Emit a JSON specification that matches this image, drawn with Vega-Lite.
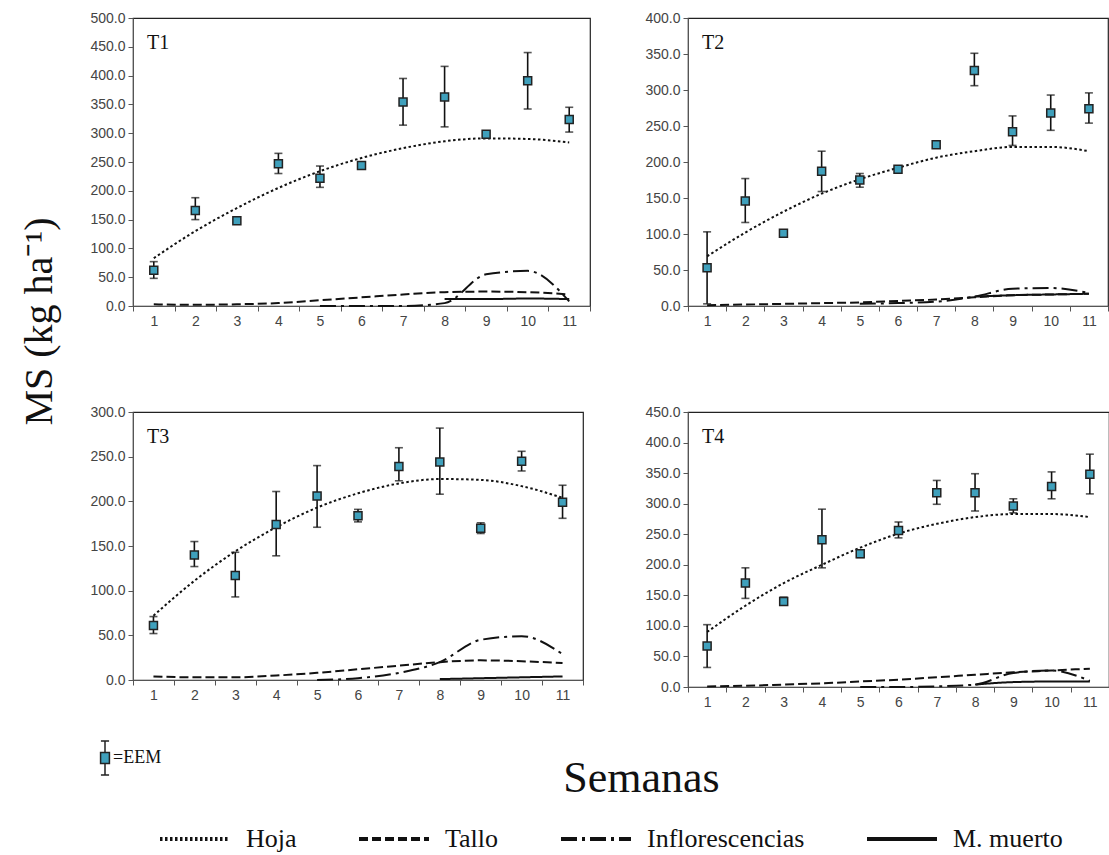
{
  "$schema": "https://vega.github.io/schema/vega-lite/v6.json",
  "background": "white",
  "padding": {"left": 18, "top": 10, "right": 0, "bottom": 0},
  "columns": 2,
  "bounds": "flush",
  "spacing": {"row": 106, "column": 98},
  "resolve": {
    "scale": {"x": "independent", "y": "independent", "strokeDash": "shared", "fill": "shared"},
    "axis": {"x": "independent", "y": "independent"},
    "legend": {"strokeDash": "shared", "fill": "shared"}
  },
  "datasets": {
    "pts": [
      {"p":"T1","s":1,"ms":62,"lo":48,"hi":77},{"p":"T1","s":2,"ms":166,"lo":150,"hi":188},{"p":"T1","s":3,"ms":148,"lo":145,"hi":151},{"p":"T1","s":4,"ms":247,"lo":230,"hi":265},{"p":"T1","s":5,"ms":222,"lo":206,"hi":243},{"p":"T1","s":6,"ms":244,"lo":238,"hi":250},{"p":"T1","s":7,"ms":354,"lo":314,"hi":395},{"p":"T1","s":8,"ms":363,"lo":311,"hi":416},{"p":"T1","s":9,"ms":298,"lo":294,"hi":302},{"p":"T1","s":10,"ms":391,"lo":342,"hi":440},{"p":"T1","s":11,"ms":324,"lo":302,"hi":345},
      {"p":"T2","s":1,"ms":53,"lo":3,"hi":103},{"p":"T2","s":2,"ms":146,"lo":116,"hi":177},{"p":"T2","s":3,"ms":101,"lo":97,"hi":105},{"p":"T2","s":4,"ms":187,"lo":159,"hi":215},{"p":"T2","s":5,"ms":175,"lo":165,"hi":184},{"p":"T2","s":6,"ms":190,"lo":187,"hi":193},{"p":"T2","s":7,"ms":224,"lo":221,"hi":227},{"p":"T2","s":8,"ms":327,"lo":306,"hi":351},{"p":"T2","s":9,"ms":242,"lo":223,"hi":264},{"p":"T2","s":10,"ms":268,"lo":244,"hi":293},{"p":"T2","s":11,"ms":274,"lo":254,"hi":296},
      {"p":"T3","s":1,"ms":61,"lo":52,"hi":71},{"p":"T3","s":2,"ms":140,"lo":127,"hi":155},{"p":"T3","s":3,"ms":117,"lo":93,"hi":143},{"p":"T3","s":4,"ms":174,"lo":139,"hi":211},{"p":"T3","s":5,"ms":206,"lo":171,"hi":240},{"p":"T3","s":6,"ms":184,"lo":177,"hi":191},{"p":"T3","s":7,"ms":239,"lo":223,"hi":260},{"p":"T3","s":8,"ms":244,"lo":208,"hi":282},{"p":"T3","s":9,"ms":170,"lo":164,"hi":176},{"p":"T3","s":10,"ms":245,"lo":234,"hi":256},{"p":"T3","s":11,"ms":199,"lo":181,"hi":218},
      {"p":"T4","s":1,"ms":67,"lo":32,"hi":102},{"p":"T4","s":2,"ms":170,"lo":145,"hi":195},{"p":"T4","s":3,"ms":140,"lo":134,"hi":147},{"p":"T4","s":4,"ms":241,"lo":195,"hi":291},{"p":"T4","s":5,"ms":218,"lo":212,"hi":224},{"p":"T4","s":6,"ms":256,"lo":244,"hi":270},{"p":"T4","s":7,"ms":318,"lo":299,"hi":338},{"p":"T4","s":8,"ms":318,"lo":288,"hi":349},{"p":"T4","s":9,"ms":296,"lo":285,"hi":308},{"p":"T4","s":10,"ms":328,"lo":308,"hi":352},{"p":"T4","s":11,"ms":348,"lo":316,"hi":381}
    ],
    "lin": [
      {"p":"T1","c":"Hoja","s":1,"v":83},{"p":"T1","c":"Hoja","s":2,"v":130},{"p":"T1","c":"Hoja","s":3,"v":170},{"p":"T1","c":"Hoja","s":4,"v":205},{"p":"T1","c":"Hoja","s":5,"v":234},{"p":"T1","c":"Hoja","s":6,"v":257},{"p":"T1","c":"Hoja","s":7,"v":274},{"p":"T1","c":"Hoja","s":8,"v":286},{"p":"T1","c":"Hoja","s":9,"v":291},{"p":"T1","c":"Hoja","s":10,"v":290},{"p":"T1","c":"Hoja","s":11,"v":284},
      {"p":"T1","c":"Tallo","s":1,"v":3},{"p":"T1","c":"Tallo","s":2,"v":2},{"p":"T1","c":"Tallo","s":3,"v":3},{"p":"T1","c":"Tallo","s":4,"v":5},{"p":"T1","c":"Tallo","s":5,"v":10},{"p":"T1","c":"Tallo","s":6,"v":15},{"p":"T1","c":"Tallo","s":7,"v":20},{"p":"T1","c":"Tallo","s":8,"v":24},{"p":"T1","c":"Tallo","s":9,"v":25},{"p":"T1","c":"Tallo","s":10,"v":24},{"p":"T1","c":"Tallo","s":11,"v":20},
      {"p":"T1","c":"Inflorescencias","s":5,"v":0},{"p":"T1","c":"Inflorescencias","s":6,"v":0},{"p":"T1","c":"Inflorescencias","s":7,"v":0},{"p":"T1","c":"Inflorescencias","s":8,"v":5},{"p":"T1","c":"Inflorescencias","s":9,"v":55},{"p":"T1","c":"Inflorescencias","s":10,"v":61},{"p":"T1","c":"Inflorescencias","s":11,"v":8},
      {"p":"T1","c":"M. muerto","s":8,"v":12},{"p":"T1","c":"M. muerto","s":9,"v":12},{"p":"T1","c":"M. muerto","s":10,"v":13},{"p":"T1","c":"M. muerto","s":11,"v":12},
      {"p":"T2","c":"Hoja","s":1,"v":69},{"p":"T2","c":"Hoja","s":2,"v":102},{"p":"T2","c":"Hoja","s":3,"v":131},{"p":"T2","c":"Hoja","s":4,"v":156},{"p":"T2","c":"Hoja","s":5,"v":176},{"p":"T2","c":"Hoja","s":6,"v":192},{"p":"T2","c":"Hoja","s":7,"v":206},{"p":"T2","c":"Hoja","s":8,"v":215},{"p":"T2","c":"Hoja","s":9,"v":221},{"p":"T2","c":"Hoja","s":10,"v":221},{"p":"T2","c":"Hoja","s":11,"v":215},
      {"p":"T2","c":"Tallo","s":1,"v":1},{"p":"T2","c":"Tallo","s":2,"v":2},{"p":"T2","c":"Tallo","s":3,"v":3},{"p":"T2","c":"Tallo","s":4,"v":4},{"p":"T2","c":"Tallo","s":5,"v":5},{"p":"T2","c":"Tallo","s":6,"v":7},{"p":"T2","c":"Tallo","s":7,"v":9},{"p":"T2","c":"Tallo","s":8,"v":12},{"p":"T2","c":"Tallo","s":9,"v":15},{"p":"T2","c":"Tallo","s":10,"v":16},{"p":"T2","c":"Tallo","s":11,"v":17},
      {"p":"T2","c":"Inflorescencias","s":5,"v":3},{"p":"T2","c":"Inflorescencias","s":6,"v":4},{"p":"T2","c":"Inflorescencias","s":7,"v":6},{"p":"T2","c":"Inflorescencias","s":8,"v":13},{"p":"T2","c":"Inflorescencias","s":9,"v":24},{"p":"T2","c":"Inflorescencias","s":10,"v":25},{"p":"T2","c":"Inflorescencias","s":11,"v":18},
      {"p":"T2","c":"M. muerto","s":8,"v":13},{"p":"T2","c":"M. muerto","s":9,"v":15},{"p":"T2","c":"M. muerto","s":10,"v":16},{"p":"T2","c":"M. muerto","s":11,"v":17},
      {"p":"T3","c":"Hoja","s":1,"v":72},{"p":"T3","c":"Hoja","s":2,"v":111},{"p":"T3","c":"Hoja","s":3,"v":144},{"p":"T3","c":"Hoja","s":4,"v":171},{"p":"T3","c":"Hoja","s":5,"v":193},{"p":"T3","c":"Hoja","s":6,"v":209},{"p":"T3","c":"Hoja","s":7,"v":220},{"p":"T3","c":"Hoja","s":8,"v":225},{"p":"T3","c":"Hoja","s":9,"v":224},{"p":"T3","c":"Hoja","s":10,"v":217},{"p":"T3","c":"Hoja","s":11,"v":204},
      {"p":"T3","c":"Tallo","s":1,"v":4},{"p":"T3","c":"Tallo","s":2,"v":3},{"p":"T3","c":"Tallo","s":3,"v":3},{"p":"T3","c":"Tallo","s":4,"v":5},{"p":"T3","c":"Tallo","s":5,"v":8},{"p":"T3","c":"Tallo","s":6,"v":12},{"p":"T3","c":"Tallo","s":7,"v":16},{"p":"T3","c":"Tallo","s":8,"v":20},{"p":"T3","c":"Tallo","s":9,"v":22},{"p":"T3","c":"Tallo","s":10,"v":21},{"p":"T3","c":"Tallo","s":11,"v":19},
      {"p":"T3","c":"Inflorescencias","s":5,"v":0},{"p":"T3","c":"Inflorescencias","s":6,"v":2},{"p":"T3","c":"Inflorescencias","s":7,"v":8},{"p":"T3","c":"Inflorescencias","s":8,"v":20},{"p":"T3","c":"Inflorescencias","s":9,"v":45},{"p":"T3","c":"Inflorescencias","s":10,"v":49},{"p":"T3","c":"Inflorescencias","s":11,"v":29},
      {"p":"T3","c":"M. muerto","s":8,"v":1},{"p":"T3","c":"M. muerto","s":9,"v":2},{"p":"T3","c":"M. muerto","s":10,"v":3},{"p":"T3","c":"M. muerto","s":11,"v":4},
      {"p":"T4","c":"Hoja","s":1,"v":90},{"p":"T4","c":"Hoja","s":2,"v":133},{"p":"T4","c":"Hoja","s":3,"v":170},{"p":"T4","c":"Hoja","s":4,"v":200},{"p":"T4","c":"Hoja","s":5,"v":228},{"p":"T4","c":"Hoja","s":6,"v":251},{"p":"T4","c":"Hoja","s":7,"v":267},{"p":"T4","c":"Hoja","s":8,"v":278},{"p":"T4","c":"Hoja","s":9,"v":283},{"p":"T4","c":"Hoja","s":10,"v":283},{"p":"T4","c":"Hoja","s":11,"v":278},
      {"p":"T4","c":"Tallo","s":1,"v":1},{"p":"T4","c":"Tallo","s":2,"v":2},{"p":"T4","c":"Tallo","s":3,"v":4},{"p":"T4","c":"Tallo","s":4,"v":6},{"p":"T4","c":"Tallo","s":5,"v":9},{"p":"T4","c":"Tallo","s":6,"v":12},{"p":"T4","c":"Tallo","s":7,"v":16},{"p":"T4","c":"Tallo","s":8,"v":20},{"p":"T4","c":"Tallo","s":9,"v":24},{"p":"T4","c":"Tallo","s":10,"v":27},{"p":"T4","c":"Tallo","s":11,"v":30},
      {"p":"T4","c":"Inflorescencias","s":5,"v":0},{"p":"T4","c":"Inflorescencias","s":6,"v":0},{"p":"T4","c":"Inflorescencias","s":7,"v":1},{"p":"T4","c":"Inflorescencias","s":8,"v":4},{"p":"T4","c":"Inflorescencias","s":9,"v":23},{"p":"T4","c":"Inflorescencias","s":10,"v":27},{"p":"T4","c":"Inflorescencias","s":11,"v":10},
      {"p":"T4","c":"M. muerto","s":8,"v":4},{"p":"T4","c":"M. muerto","s":9,"v":8},{"p":"T4","c":"M. muerto","s":10,"v":9},{"p":"T4","c":"M. muerto","s":11,"v":9}
    ]
  },
  "concat": [
    {
      "width": 457, "height": 288,
      "title": {"text": "T1", "anchor": "start", "frame": "group", "offset": -42, "dx": 14},
      "layer": [
        {"data": {"name": "lin"}, "transform": [{"filter": "datum.p === 'T1'"}],
         "mark": {"type": "line", "color": "#111", "strokeWidth": 2, "interpolate": "monotone"},
         "encoding": {
           "x": {"field": "s", "type": "ordinal", "title": null, "scale": {"type": "band", "paddingInner": 0, "paddingOuter": 0, "domain": [1,2,3,4,5,6,7,8,9,10,11]}},
           "y": {"field": "v", "type": "quantitative", "title": "MS (kg ha⁻¹)", "scale": {"domain": [0, 500], "nice": false},
                 "axis": {"values": [0,50,100,150,200,250,300,350,400,450,500], "titleX": -94, "titleY": 303, "titleAngle": 270, "titleAlign": "center", "titleBaseline": "middle", "titleFontSize": 40, "titleFont": "Liberation Serif"}},
           "strokeDash": {"field": "c", "type": "nominal",
             "scale": {"domain": ["Hoja", "Tallo", "Inflorescencias", "M. muerto"], "range": [[2.5, 2.5], [9, 4], [16, 5, 3, 5], [1, 0]]},
             "legend": {"title": null, "orient": "none", "legendX": 25, "legendY": 784, "direction": "horizontal", "symbolType": "stroke", "symbolSize": 4900, "symbolStrokeWidth": 4, "symbolStrokeColor": "#111", "labelFont": "Liberation Serif", "labelFontSize": 26, "labelColor": "#111", "labelOffset": 14, "columnPadding": 54, "labelLimit": 400, "padding": 0}}
         }},
        {"data": {"name": "pts"}, "transform": [{"filter": "datum.p === 'T1'"}],
         "mark": {"type": "rule", "color": "#111", "strokeWidth": 1.6},
         "encoding": {"x": {"field": "s", "type": "ordinal", "title": null}, "y": {"field": "lo", "type": "quantitative", "title": "MS (kg ha⁻¹)", "axis": {"values": [0,50,100,150,200,250,300,350,400,450,500]}}, "y2": {"field": "hi"}}},
        {"data": {"name": "pts"}, "transform": [{"filter": "datum.p === 'T1'"}],
         "mark": {"type": "tick", "color": "#111", "size": 8, "thickness": 1.6},
         "encoding": {"x": {"field": "s", "type": "ordinal", "title": null}, "y": {"field": "lo", "type": "quantitative", "title": "MS (kg ha⁻¹)", "axis": {"values": [0,50,100,150,200,250,300,350,400,450,500]}}}},
        {"data": {"name": "pts"}, "transform": [{"filter": "datum.p === 'T1'"}],
         "mark": {"type": "tick", "color": "#111", "size": 8, "thickness": 1.6},
         "encoding": {"x": {"field": "s", "type": "ordinal", "title": null}, "y": {"field": "hi", "type": "quantitative", "title": "MS (kg ha⁻¹)", "axis": {"values": [0,50,100,150,200,250,300,350,400,450,500]}}}},
        {"data": {"name": "pts"}, "transform": [{"filter": "datum.p === 'T1'"}],
         "mark": {"type": "point", "shape": "square", "filled": true, "size": 64, "stroke": "#222", "strokeWidth": 1.5, "opacity": 1},
         "encoding": {"x": {"field": "s", "type": "ordinal", "title": null}, "y": {"field": "ms", "type": "quantitative", "title": "MS (kg ha⁻¹)", "axis": {"values": [0,50,100,150,200,250,300,350,400,450,500]}},
           "fill": {"datum": "=EEM", "type": "nominal", "scale": {"range": ["#3fa0bc"]},
             "legend": {"title": null, "orient": "none", "legendX": -46, "legendY": 722, "symbolType": "M-0.26,-0.32H0.26V0.32H-0.26Z M0,-0.32V-1 M-0.24,-1H0.24 M0,0.32V1 M-0.24,1H0.24", "symbolSize": 1156, "symbolStrokeColor": "#222", "symbolStrokeWidth": 1.5, "symbolOpacity": 1, "labelFont": "Liberation Serif", "labelFontSize": 18, "labelColor": "#111", "labelOffset": -10, "padding": 0}}}}
      ]
    },
    {
      "width": 420, "height": 288,
      "title": {"text": "T2", "anchor": "start", "frame": "group", "offset": -42, "dx": 14},
      "layer": [
        {"data": {"name": "lin"}, "transform": [{"filter": "datum.p === 'T2'"}],
         "mark": {"type": "line", "color": "#111", "strokeWidth": 2, "interpolate": "monotone"},
         "encoding": {
           "x": {"field": "s", "type": "ordinal", "title": null, "scale": {"type": "band", "paddingInner": 0, "paddingOuter": 0, "domain": [1,2,3,4,5,6,7,8,9,10,11]}},
           "y": {"field": "v", "type": "quantitative", "title": null, "scale": {"domain": [0, 400], "nice": false},
                 "axis": {"values": [0,50,100,150,200,250,300,350,400]}},
           "strokeDash": {"field": "c", "type": "nominal"}
         }},
        {"data": {"name": "pts"}, "transform": [{"filter": "datum.p === 'T2'"}],
         "mark": {"type": "rule", "color": "#111", "strokeWidth": 1.6},
         "encoding": {"x": {"field": "s", "type": "ordinal", "title": null}, "y": {"field": "lo", "type": "quantitative", "title": null, "axis": {"values": [0,50,100,150,200,250,300,350,400]}}, "y2": {"field": "hi"}}},
        {"data": {"name": "pts"}, "transform": [{"filter": "datum.p === 'T2'"}],
         "mark": {"type": "tick", "color": "#111", "size": 8, "thickness": 1.6},
         "encoding": {"x": {"field": "s", "type": "ordinal", "title": null}, "y": {"field": "lo", "type": "quantitative", "title": null, "axis": {"values": [0,50,100,150,200,250,300,350,400]}}}},
        {"data": {"name": "pts"}, "transform": [{"filter": "datum.p === 'T2'"}],
         "mark": {"type": "tick", "color": "#111", "size": 8, "thickness": 1.6},
         "encoding": {"x": {"field": "s", "type": "ordinal", "title": null}, "y": {"field": "hi", "type": "quantitative", "title": null, "axis": {"values": [0,50,100,150,200,250,300,350,400]}}}},
        {"data": {"name": "pts"}, "transform": [{"filter": "datum.p === 'T2'"}],
         "mark": {"type": "point", "shape": "square", "filled": true, "size": 64, "stroke": "#222", "strokeWidth": 1.5, "opacity": 1},
         "encoding": {"x": {"field": "s", "type": "ordinal", "title": null}, "y": {"field": "ms", "type": "quantitative", "title": null, "axis": {"values": [0,50,100,150,200,250,300,350,400]}},
           "fill": {"datum": "=EEM", "type": "nominal"}}}
      ]
    },
    {
      "width": 450, "height": 268,
      "title": {"text": "T3", "anchor": "start", "frame": "group", "offset": -42, "dx": 14},
      "layer": [
        {"data": {"name": "lin"}, "transform": [{"filter": "datum.p === 'T3'"}],
         "mark": {"type": "line", "color": "#111", "strokeWidth": 2, "interpolate": "monotone"},
         "encoding": {
           "x": {"field": "s", "type": "ordinal", "title": "Semanas", "scale": {"type": "band", "paddingInner": 0, "paddingOuter": 0, "domain": [1,2,3,4,5,6,7,8,9,10,11]},
                 "axis": {"titleX": 508, "titleY": 111, "titleAlign": "center", "titleBaseline": "alphabetic", "titleFontSize": 44}},
           "y": {"field": "v", "type": "quantitative", "title": null, "scale": {"domain": [0, 300], "nice": false},
                 "axis": {"values": [0,50,100,150,200,250,300]}},
           "strokeDash": {"field": "c", "type": "nominal"}
         }},
        {"data": {"name": "pts"}, "transform": [{"filter": "datum.p === 'T3'"}],
         "mark": {"type": "rule", "color": "#111", "strokeWidth": 1.6},
         "encoding": {"x": {"field": "s", "type": "ordinal", "title": "Semanas"}, "y": {"field": "lo", "type": "quantitative", "title": null, "axis": {"values": [0,50,100,150,200,250,300]}}, "y2": {"field": "hi"}}},
        {"data": {"name": "pts"}, "transform": [{"filter": "datum.p === 'T3'"}],
         "mark": {"type": "tick", "color": "#111", "size": 8, "thickness": 1.6},
         "encoding": {"x": {"field": "s", "type": "ordinal", "title": "Semanas"}, "y": {"field": "lo", "type": "quantitative", "title": null, "axis": {"values": [0,50,100,150,200,250,300]}}}},
        {"data": {"name": "pts"}, "transform": [{"filter": "datum.p === 'T3'"}],
         "mark": {"type": "tick", "color": "#111", "size": 8, "thickness": 1.6},
         "encoding": {"x": {"field": "s", "type": "ordinal", "title": "Semanas"}, "y": {"field": "hi", "type": "quantitative", "title": null, "axis": {"values": [0,50,100,150,200,250,300]}}}},
        {"data": {"name": "pts"}, "transform": [{"filter": "datum.p === 'T3'"}],
         "mark": {"type": "point", "shape": "square", "filled": true, "size": 64, "stroke": "#222", "strokeWidth": 1.5, "opacity": 1},
         "encoding": {"x": {"field": "s", "type": "ordinal", "title": "Semanas"}, "y": {"field": "ms", "type": "quantitative", "title": null, "axis": {"values": [0,50,100,150,200,250,300]}},
           "fill": {"datum": "=EEM", "type": "nominal"}}}
      ]
    },
    {
      "width": 421, "height": 275,
      "title": {"text": "T4", "anchor": "start", "frame": "group", "offset": -42, "dx": 14},
      "layer": [
        {"data": {"name": "lin"}, "transform": [{"filter": "datum.p === 'T4'"}],
         "mark": {"type": "line", "color": "#111", "strokeWidth": 2, "interpolate": "monotone"},
         "encoding": {
           "x": {"field": "s", "type": "ordinal", "title": null, "scale": {"type": "band", "paddingInner": 0, "paddingOuter": 0, "domain": [1,2,3,4,5,6,7,8,9,10,11]}},
           "y": {"field": "v", "type": "quantitative", "title": null, "scale": {"domain": [0, 450], "nice": false},
                 "axis": {"values": [0,50,100,150,200,250,300,350,400,450]}},
           "strokeDash": {"field": "c", "type": "nominal"}
         }},
        {"data": {"name": "pts"}, "transform": [{"filter": "datum.p === 'T4'"}],
         "mark": {"type": "rule", "color": "#111", "strokeWidth": 1.6},
         "encoding": {"x": {"field": "s", "type": "ordinal", "title": null}, "y": {"field": "lo", "type": "quantitative", "title": null, "axis": {"values": [0,50,100,150,200,250,300,350,400,450]}}, "y2": {"field": "hi"}}},
        {"data": {"name": "pts"}, "transform": [{"filter": "datum.p === 'T4'"}],
         "mark": {"type": "tick", "color": "#111", "size": 8, "thickness": 1.6},
         "encoding": {"x": {"field": "s", "type": "ordinal", "title": null}, "y": {"field": "lo", "type": "quantitative", "title": null, "axis": {"values": [0,50,100,150,200,250,300,350,400,450]}}}},
        {"data": {"name": "pts"}, "transform": [{"filter": "datum.p === 'T4'"}],
         "mark": {"type": "tick", "color": "#111", "size": 8, "thickness": 1.6},
         "encoding": {"x": {"field": "s", "type": "ordinal", "title": null}, "y": {"field": "hi", "type": "quantitative", "title": null, "axis": {"values": [0,50,100,150,200,250,300,350,400,450]}}}},
        {"data": {"name": "pts"}, "transform": [{"filter": "datum.p === 'T4'"}],
         "mark": {"type": "point", "shape": "square", "filled": true, "size": 64, "stroke": "#222", "strokeWidth": 1.5, "opacity": 1},
         "encoding": {"x": {"field": "s", "type": "ordinal", "title": null}, "y": {"field": "ms", "type": "quantitative", "title": null, "axis": {"values": [0,50,100,150,200,250,300,350,400,450]}},
           "fill": {"datum": "=EEM", "type": "nominal"}}}
      ]
    }
  ],
  "config": {
    "view": {"stroke": "#222", "strokeWidth": 1.2},
    "title": {"font": "Liberation Serif", "fontSize": 20, "fontWeight": "normal", "color": "#111"},
    "axis": {"labelFont": "Liberation Sans", "labelFontSize": 14, "labelColor": "#444", "domainColor": "#555", "tickColor": "#555", "tickSize": 5, "grid": false, "titleFont": "Liberation Serif", "titleFontWeight": "normal", "titleColor": "#111", "labelOverlap": false},
    "axisX": {"labelAngle": 0, "tickBand": "extent", "labelPadding": 3},
    "axisY": {"format": ".1f", "labelPadding": 3}
  }
}
